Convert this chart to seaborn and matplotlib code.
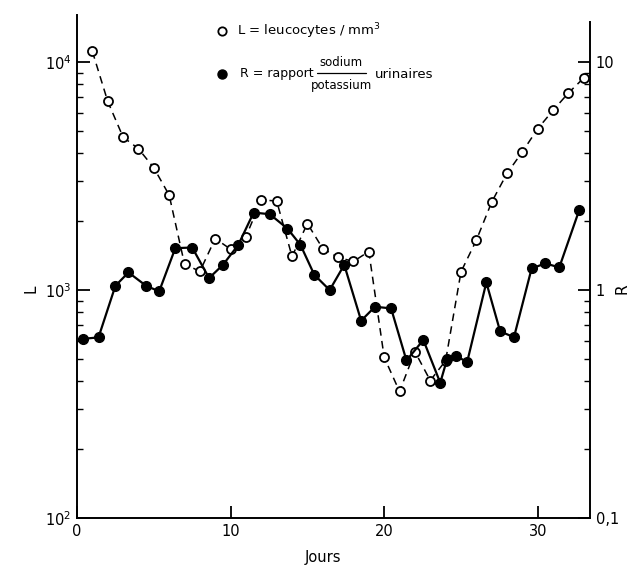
import numpy as np
import pandas as pd
import matplotlib
matplotlib.use("Agg")
import matplotlib.pyplot as plt
from matplotlib.lines import Line2D
from matplotlib.ticker import FixedLocator, FixedFormatter, LogLocator, NullFormatter
import seaborn as sns

# Data
L_days = [1, 2, 3, 4, 5, 6, 7, 8, 9, 10, 11, 12, 13, 14, 15, 16, 17, 18, 19, 20,
          21, 22, 23, 24, 25, 26, 27, 28, 29, 30, 31, 32, 33]
L_vals = [11150, 6730, 4690, 4170, 3440, 2610, 1300, 1208, 1683, 1511, 1718, 2484,
          2460, 1404, 1958, 1521, 1390, 1336, 1476, 507, 359, 537, 401, 490, 1202,
          1655, 2433, 3252, 4045, 5108, 6150, 7330, 8530]

R_days = [0.4, 1.4, 2.5, 3.35, 4.5, 5.35, 6.4, 7.5, 8.6, 9.5, 10.5, 11.5, 12.55, 13.7,
          14.55, 15.45, 16.45, 17.4, 18.5, 19.4, 20.45, 21.45, 22.55, 23.65, 24.1,
          24.65, 25.4, 26.65, 27.55, 28.45, 29.6, 30.5, 31.4, 32.7]
R_vals = [0.611, 0.62, 1.044, 1.195, 1.044, 0.987, 1.527, 1.537, 1.129, 1.29, 1.578,
          2.188, 2.152, 1.862, 1.578, 1.167, 1.0, 1.29, 0.734, 0.845, 0.831, 0.491,
          0.604, 0.392, 0.499, 0.516, 0.483, 1.08, 0.659, 0.621, 1.245, 1.309, 1.257,
          2.245]

x_ticks = [0, 10, 20, 30]
x_ticklabels = ["0", "10", "20", "30"]
L_ticks = [1e2, 1e3, 1e4]
L_ticklabels = [r"$10^2$", r"$10^3$", r"$10^4$"]
R_ticks = [0.1, 1, 10]
R_ticklabels = ["0,1", "1", "10"]

sns.set_style("ticks")
plt.rcParams["font.family"] = ["DejaVu Sans"]
plt.rcParams["text.color"] = "black"
plt.rcParams["axes.labelcolor"] = "black"
plt.rcParams["xtick.color"] = "black"
plt.rcParams["ytick.color"] = "black"
plt.rcParams["axes.edgecolor"] = "black"

W, H = 631, 566
fig = plt.figure(figsize=(W / 100, H / 100), dpi=100)
ax = fig.add_axes([77 / W, 1 - 518 / H, (590 - 77) / W, (518 - 15) / H])
ax.set_yscale("log")
ax2 = ax.twinx()
ax2.set_yscale("log")

dfL = pd.DataFrame({"jour": L_days, "L": L_vals})
dfR = pd.DataFrame({"jour": R_days, "R": R_vals})

sns.lineplot(data=dfL, x="jour", y="L", ax=ax, estimator=None, sort=False,
             color="black", linestyle=(0, (5, 3.5)), linewidth=1.1,
             marker="o", markersize=6.5, markerfacecolor="white",
             markeredgecolor="black", markeredgewidth=1.3)
sns.lineplot(data=dfR, x="jour", y="R", ax=ax2, estimator=None, sort=False,
             color="black", linestyle="-", linewidth=1.6,
             marker="o", markersize=7, markerfacecolor="black",
             markeredgecolor="black", markeredgewidth=1)

ax.set_xlim(0, 33.4)
ax.set_ylim(100, 16100)
ax2.set_ylim(0.1, 16.1)

for a in (ax, ax2):
    a.spines["top"].set_visible(False)
    for s in a.spines.values():
        s.set_linewidth(1.4)
        s.set_color("black")
ax.spines["right"].set_visible(False)
ax2.spines["left"].set_visible(False)
ax2.spines["bottom"].set_visible(False)
ax2.spines["right"].set_bounds(0.1, 15)

ax.set_xticks(x_ticks)
ax.set_xticklabels(x_ticklabels)
ax.yaxis.set_major_locator(FixedLocator(L_ticks))
ax.yaxis.set_major_formatter(FixedFormatter(L_ticklabels))
ax.yaxis.set_minor_locator(LogLocator(base=10, subs=np.arange(2, 10)))
ax.yaxis.set_minor_formatter(NullFormatter())
ax2.yaxis.set_major_locator(FixedLocator(R_ticks))
ax2.yaxis.set_major_formatter(FixedFormatter(R_ticklabels))
ax2.yaxis.set_minor_locator(LogLocator(base=10, subs=np.arange(2, 10)))
ax2.yaxis.set_minor_formatter(NullFormatter())

ax.tick_params(axis="both", which="major", direction="in", length=9, width=1.3,
               labelsize=10.5, colors="black", pad=4)
ax.tick_params(axis="y", which="minor", direction="in", length=4, width=1)
ax.tick_params(axis="x", which="minor", bottom=False)
ax2.tick_params(axis="y", which="major", direction="in", length=9, width=1.3,
                labelsize=10.5, pad=4, colors="black")
ax2.tick_params(axis="y", which="minor", direction="in", length=4, width=1)

ax.set_xlabel("Jours", fontsize=10.5)
ax.xaxis.set_label_coords(0.48, -0.064)
ax.set_ylabel("L", fontsize=11)
ax.yaxis.set_label_coords(-0.076, 0.455)
ax2.set_ylabel("R", fontsize=11, ha="center", va="center")
ax2.yaxis.set_label_coords(1.062, 0.455)

# Legend drawn as text in figure coordinates
def fx(px):
    return px / W

def fy(py):
    return 1 - py / H

fig.add_artist(Line2D([fx(222)], [fy(31)], marker="o", markersize=6,
                      markerfacecolor="white", markeredgecolor="black",
                      markeredgewidth=1.3, linestyle="none"))
fig.text(fx(237), fy(31), r"L = leucocytes / mm$^3$", fontsize=9.5,
         va="center", ha="left")
fig.add_artist(Line2D([fx(222)], [fy(74)], marker="o", markersize=6.5,
                      markerfacecolor="black", markeredgecolor="black",
                      linestyle="none"))
fig.text(fx(240), fy(74), "R = rapport", fontsize=9, va="center", ha="left")
fig.text(fx(341), fy(62), "sodium", fontsize=8.5, va="center", ha="center")
fig.add_artist(Line2D([fx(317), fx(366)], [fy(73), fy(73)], color="black",
                      linewidth=0.9))
fig.text(fx(341), fy(85), "potassium", fontsize=8.5, va="center", ha="center")
fig.text(fx(375), fy(74), "urinaires", fontsize=9.5, va="center", ha="left")

fig.savefig("out.png", dpi=100)
